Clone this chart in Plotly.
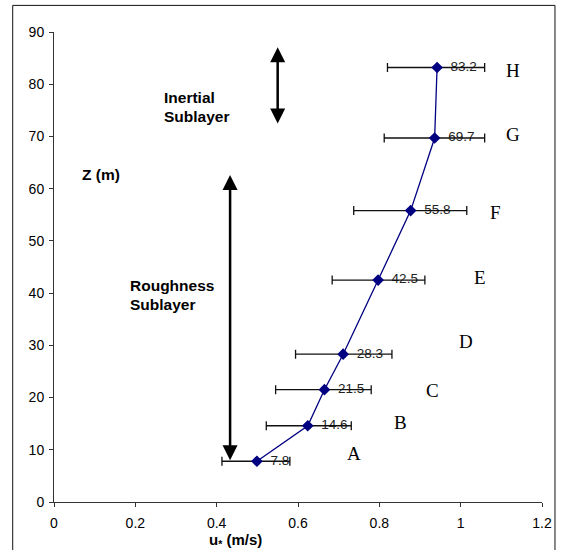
import plotly.graph_objects as go

# data
heights = [7.8, 14.6, 21.5, 28.3, 42.5, 55.8, 69.7, 83.2]
ustar = [0.499, 0.624, 0.665, 0.711, 0.797, 0.877, 0.936, 0.942]
ustar_lo = [0.413, 0.522, 0.545, 0.594, 0.684, 0.737, 0.812, 0.820]
ustar_hi = [0.580, 0.731, 0.780, 0.831, 0.912, 1.015, 1.059, 1.059]
height_labels = ["7.8", "14.6", "21.5", "28.3", "42.5", "55.8", "69.7", "83.2"]
site_letters = ["A", "B", "C", "D", "E", "F", "G", "H"]
letter_x = [0.737, 0.852, 0.931, 1.012, 1.047, 1.086, 1.128, 1.128]
letter_z = [9.3, 15.3, 21.4, 30.7, 42.9, 55.4, 70.3, 82.7]
x_ticks = [0, 0.2, 0.4, 0.6, 0.8, 1, 1.2]
x_tick_text = ["0", "0.2", "0.4", "0.6", "0.8", "1", "1.2"]
y_ticks = [0, 10, 20, 30, 40, 50, 60, 70, 80, 90]
inertial_arrow = {"x": 0.550, "z_top": 87.1, "z_bottom": 72.2}
rough_arrow = {"x": 0.433, "z_top": 62.6, "z_bottom": 7.7}

FONT = "Liberation Sans, Arial, sans-serif"
SERIF = "Liberation Serif, Times New Roman, serif"

fig = go.Figure()

# value labels (drawn first so error bars overlay them)
fig.add_trace(go.Scatter(
    x=ustar, y=heights, mode="markers+text", text=height_labels,
    textposition="middle right",
    textfont=dict(family=FONT, size=13.5, color="#222222"),
    marker=dict(size=20, opacity=0), hoverinfo="skip", showlegend=False,
))

# error bars
fig.add_trace(go.Scatter(
    x=ustar, y=heights, mode="markers",
    marker=dict(size=1, opacity=0),
    error_x=dict(type="data", symmetric=False,
                 array=[h - u for h, u in zip(ustar_hi, ustar)],
                 arrayminus=[u - l for u, l in zip(ustar, ustar_lo)],
                 color="#111111", thickness=1.3, width=4.5),
    hoverinfo="skip", showlegend=False,
))

# profile
fig.add_trace(go.Scatter(
    x=ustar, y=heights, mode="lines+markers",
    line=dict(color="#000080", width=1.3),
    marker=dict(symbol="diamond", size=9, color="#000080"),
    showlegend=False,
))

# letters
for lx, lz, s in zip(letter_x, letter_z, site_letters):
    fig.add_annotation(x=lx, y=lz, text=s, showarrow=False,
                       font=dict(family=SERIF, size=19, color="black"),
                       xanchor="center", yanchor="middle")

# arrows
for arr in (inertial_arrow, rough_arrow):
    fig.add_annotation(x=arr["x"], y=arr["z_top"], ax=arr["x"], ay=arr["z_bottom"],
                       xref="x", yref="y", axref="x", ayref="y",
                       text="", showarrow=True, arrowside="end+start",
                       arrowhead=2, startarrowhead=2, arrowsize=1.2, startarrowsize=1.2,
                       arrowwidth=2.5, arrowcolor="black")

# text annotations
def txt(x, y, s):
    fig.add_annotation(x=x, y=y, text="<b>" + s + "</b>", showarrow=False,
                       xanchor="left", yanchor="middle",
                       font=dict(family=FONT, size=15.5, color="black"))

txt(0.265, 77.5, "Inertial")
txt(0.265, 73.9, "Sublayer")
txt(0.183, 41.4, "Roughness")
txt(0.183, 37.9, "Sublayer")
txt(0.065, 62.8, "Z (m)")

# x axis title
fig.add_annotation(x=0.447, y=-0.081, xref="x", yref="paper",
                   text="<b>u<sub>*</sub> (m/s)</b>", showarrow=False,
                   xanchor="center", yanchor="middle",
                   font=dict(family=FONT, size=15, color="black"))

# outer frame
fig.add_shape(type="rect", xref="paper", yref="paper",
              x0=-0.0846, x1=1.0266, y0=-0.12, y1=1.0566,
              line=dict(color="#111111", width=1), fillcolor="rgba(0,0,0,0)")

fig.update_layout(
    width=563, height=550,
    margin=dict(l=54, r=21, t=32, b=48),
    paper_bgcolor="white", plot_bgcolor="white",
    font=dict(family=FONT, size=14, color="black"),
    xaxis=dict(range=[0, 1.2], tickvals=x_ticks, ticktext=x_tick_text,
               showgrid=False, zeroline=False, showline=True, linecolor="#333333",
               linewidth=1, ticks="outside", ticklen=4, tickcolor="#333333",
               ticklabelstandoff=4,
               tickfont=dict(family=FONT, size=14, color="black")),
    yaxis=dict(range=[0, 90], tickvals=y_ticks,
               showgrid=False, zeroline=False, showline=True, linecolor="#333333",
               linewidth=1, ticks="outside", ticklen=4, tickcolor="#333333",
               ticklabelstandoff=2,
               tickfont=dict(family=FONT, size=14, color="black")),
)

fig.write_html("out.html")
